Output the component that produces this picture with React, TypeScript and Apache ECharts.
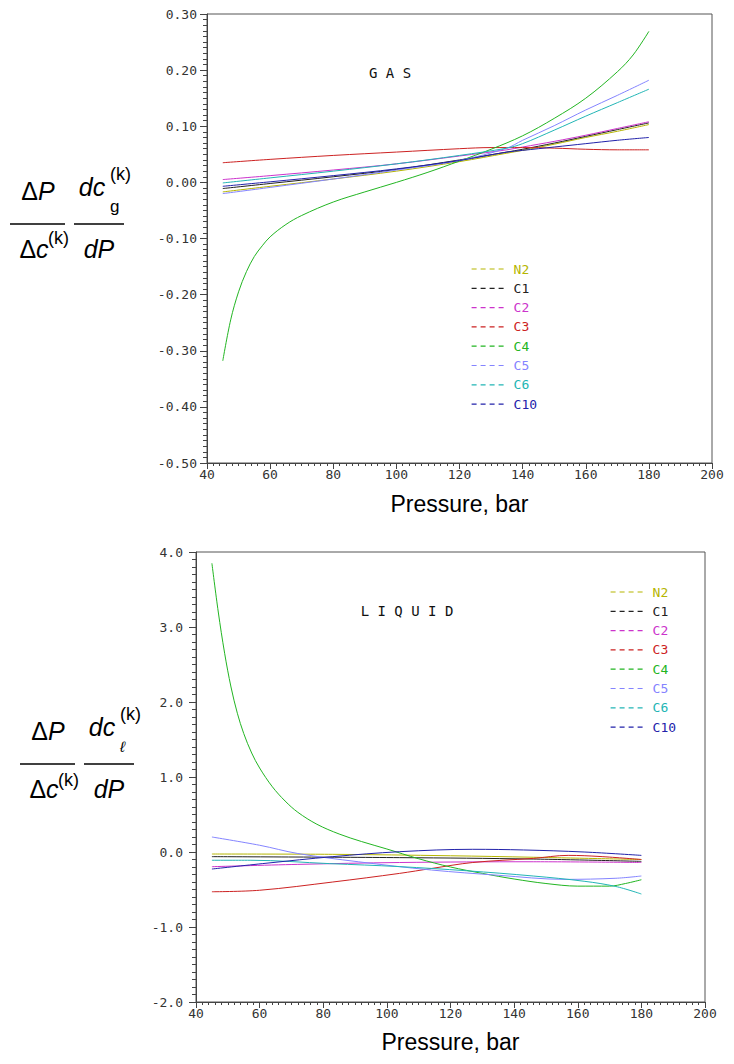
import React, { useEffect, useRef } from "react";
import * as echarts from "echarts";

const components = ["N2", "C1", "C2", "C3", "C4", "C5", "C6", "C10"];
const colors = ["#b5b500", "#222222", "#cc33cc", "#cc2222", "#22b522", "#8484ff", "#22b5b5", "#2222aa"];
const xTicks = { min: 40, max: 200, interval: 20 };

// GAS panel: [pressure, value]
const gasN2 = [[45, -0.017], [60, -0.007], [80, 0.006], [100, 0.020], [120, 0.037], [135, 0.052], [140, 0.057], [150, 0.068], [160, 0.080], [170, 0.091], [180, 0.103]];
const gasC1 = [[45, -0.011], [60, -0.002], [80, 0.010], [100, 0.023], [120, 0.040], [135, 0.054], [140, 0.059], [150, 0.070], [160, 0.082], [170, 0.094], [180, 0.106]];
const gasC2 = [[45, 0.005], [60, 0.012], [80, 0.022], [100, 0.033], [120, 0.047], [135, 0.058], [140, 0.063], [150, 0.073], [160, 0.084], [170, 0.096], [180, 0.108]];
const gasC3 = [[45, 0.035], [60, 0.041], [80, 0.048], [100, 0.054], [120, 0.060], [130, 0.062], [140, 0.062], [150, 0.061], [160, 0.059], [170, 0.058], [180, 0.058]];
const gasC4 = [[45, -0.318], [47.5, -0.245], [50, -0.195], [52.5, -0.159], [55, -0.132], [57.5, -0.113], [60, -0.097], [65, -0.075], [70, -0.059], [80, -0.035], [90, -0.017], [100, 0.0], [110, 0.018], [120, 0.038], [130, 0.059], [140, 0.083], [150, 0.114], [160, 0.150], [170, 0.197], [175, 0.227], [180, 0.269]];
const gasC5 = [[45, -0.020], [60, -0.009], [80, 0.006], [100, 0.022], [120, 0.039], [135, 0.061], [140, 0.075], [150, 0.101], [160, 0.129], [170, 0.155], [180, 0.182]];
const gasC6 = [[45, -0.001], [60, 0.008], [80, 0.020], [100, 0.033], [120, 0.048], [135, 0.061], [140, 0.069], [150, 0.093], [160, 0.118], [170, 0.142], [180, 0.166]];
const gasC10 = [[45, -0.007], [60, 0.001], [80, 0.012], [100, 0.024], [120, 0.039], [135, 0.054], [140, 0.057], [150, 0.063], [160, 0.069], [170, 0.075], [180, 0.080]];

// LIQUID panel: [pressure, value]
const liqN2 = [[45, -0.027], [83, -0.031], [120, -0.05], [146, -0.07], [180, -0.10]];
const liqC1 = [[45, -0.062], [104, -0.075], [146, -0.094], [180, -0.125]];
const liqC2 = [[45, -0.196], [72, -0.165], [104, -0.14], [146, -0.13], [180, -0.14]];
const liqC3 = [[45, -0.53], [60, -0.51], [83, -0.40], [104, -0.285], [114, -0.22], [127, -0.14], [146, -0.085], [157, -0.045], [167, -0.06], [180, -0.10]];
const liqC4 = [[45, 3.85], [47, 3.2], [49, 2.65], [51, 2.2], [53, 1.85], [55, 1.58], [57.5, 1.32], [60, 1.12], [64, 0.87], [68, 0.68], [72, 0.53], [78, 0.37], [85, 0.24], [92, 0.14], [100, 0.04], [110, -0.09], [120, -0.20], [130, -0.285], [140, -0.36], [150, -0.42], [160, -0.455], [170, -0.455], [175, -0.42], [180, -0.37]];
const liqC5 = [[45, 0.20], [60, 0.09], [72, -0.02], [91, -0.13], [114, -0.24], [135, -0.31], [156, -0.365], [172, -0.35], [180, -0.32]];
const liqC6 = [[45, -0.11], [57, -0.11], [82, -0.155], [104, -0.195], [125, -0.25], [146, -0.32], [162, -0.39], [172, -0.46], [180, -0.56]];
const liqC10 = [[45, -0.227], [62, -0.15], [83, -0.062], [104, 0.004], [127, 0.036], [143, 0.027], [162, 0.0], [180, -0.045]];

const gasSeries = [gasN2, gasC1, gasC2, gasC3, gasC4, gasC5, gasC6, gasC10];
const liqSeries = [liqN2, liqC1, liqC2, liqC3, liqC4, liqC5, liqC6, liqC10];

const MONO = "'DejaVu Sans Mono', monospace";
const SANS = "'Liberation Sans', Arial, sans-serif";

function mkX(gridIndex: number, nameGap: number) {
  return {
    type: "value",
    gridIndex,
    min: xTicks.min,
    max: xTicks.max,
    interval: xTicks.interval,
    axisLine: { show: true, onZero: false, lineStyle: { color: "#444", width: 1 } },
    axisTick: { show: true, length: 6, lineStyle: { color: "#444" } },
    minorTick: { show: true, splitNumber: 10, length: 3, lineStyle: { color: "#444" } },
    splitLine: { show: false },
    axisLabel: { color: "#333", fontFamily: MONO, fontSize: 13, margin: 5 },
    name: "Pressure, bar",
    nameLocation: "middle",
    nameGap,
    nameTextStyle: { fontFamily: SANS, fontSize: 23, color: "#000" },
  };
}

function mkY(gridIndex: number, min: number, max: number, interval: number, digits: number, margin: number) {
  return {
    type: "value",
    gridIndex,
    min,
    max,
    interval,
    axisLine: { show: true, onZero: false, lineStyle: { color: "#444", width: 1 } },
    axisTick: { show: true, length: 7, lineStyle: { color: "#444" } },
    minorTick: { show: true, splitNumber: 10, length: 4, lineStyle: { color: "#444" } },
    splitLine: { show: false },
    axisLabel: {
      color: "#333",
      fontFamily: MONO,
      fontSize: 13,
      margin,
      formatter: (v: number) => (Math.abs(v) < 1e-9 ? 0 : v).toFixed(digits),
    },
  };
}

function mkLegend(left: number, top: number) {
  return {
    orient: "vertical",
    left,
    top,
    itemWidth: 34,
    itemHeight: 10,
    itemGap: 5.3,
    selectedMode: false,
    itemStyle: { opacity: 0 },
    lineStyle: { type: [5, 4], width: 1.2 },
    textStyle: { fontFamily: MONO, fontSize: 13, lineHeight: 14, padding: [0, 0, 0, 3] },
    data: components.map((n, i) => ({
      name: n,
      textStyle: { color: colors[i] },
      lineStyle: { color: colors[i], type: [5, 4], width: 1.2 },
    })),
  };
}

function mathLabel(ox: number, oy: number, sub: string, subFont: string, kDy: number) {
  const big = 25;
  const rich = {
    n: { fontFamily: SANS, fontSize: big, fill: "#000", color: "#000" },
    i: { fontFamily: SANS, fontSize: big, fontStyle: "italic", fill: "#000", color: "#000" },
  };
  const t = (x: number, y: number, text: string, extra: any = {}) => ({
    type: "text",
    x: ox + x,
    y: oy + y,
    silent: true,
    style: { text, fill: "#000", align: "center", verticalAlign: "middle", rich, ...extra },
  });
  const line = (x1: number, x2: number) => ({
    type: "line",
    silent: true,
    shape: { x1: ox + x1, y1: oy, x2: ox + x2, y2: oy },
    style: { stroke: "#000", lineWidth: 1.3 },
  });
  return [
    t(28, -33, "{n|Δ}{i|P}"),
    line(0, 55),
    t(24, 25, "{n|Δ}{i|c}"),
    t(38, kDy, "(k)", { align: "left", font: `18px ${SANS}` }),
    t(82, -37, "{i|dc}"),
    t(100, -18, sub, { align: "left", font: subFont }),
    t(100, -50, "(k)", { align: "left", font: `18px ${SANS}` }),
    line(64, 114),
    t(89, 25, "{i|dP}"),
  ];
}

export default function App() {
  const ref = useRef<HTMLDivElement>(null);
  useEffect(() => {
    document.body.style.margin = "0";
    const chart = echarts.init(ref.current!, undefined, { renderer: "svg" });
    const series: any[] = [];
    [gasSeries, liqSeries].forEach((group, gi) => {
      components.forEach((name, i) => {
        series.push({
          name,
          type: "line",
          xAxisIndex: gi,
          yAxisIndex: gi,
          data: group[i],
          symbol: "none",
          smooth: 0.35,
          color: colors[i],
          lineStyle: { width: 1, color: colors[i] },
        });
      });
    });
    const option: any = {
      animation: false,
      backgroundColor: "#fff",
      grid: [
        { left: 207, top: 14, width: 505, height: 449, show: true, borderColor: "#555", borderWidth: 1 },
        { left: 196, top: 552, width: 509, height: 450, show: true, borderColor: "#555", borderWidth: 1 },
      ],
      xAxis: [mkX(0, 29), mkX(1, 28)],
      yAxis: [mkY(0, -0.5, 0.3, 0.1, 2, 10), mkY(1, -2, 4, 1, 1, 13)],
      legend: [mkLegend(466, 257), mkLegend(605, 580)],
      series,
      graphic: [
        {
          type: "text",
          x: 390,
          y: 73,
          style: { text: "G A S", font: `14px ${MONO}`, fill: "#111", align: "center", verticalAlign: "middle" },
        },
        {
          type: "text",
          x: 407,
          y: 611,
          style: { text: "L I Q U I D", font: `14px ${MONO}`, fill: "#111", align: "center", verticalAlign: "middle" },
        },
        ...mathLabel(10, 224, "g", `17px ${SANS}`, 14),
        ...mathLabel(20, 764, "ℓ", `italic 15px ${SANS}`, 16),
      ],
    };
    chart.setOption(option);
    return () => chart.dispose();
  }, []);
  return <div ref={ref} style={{ width: 734, height: 1064 }} />;
}
